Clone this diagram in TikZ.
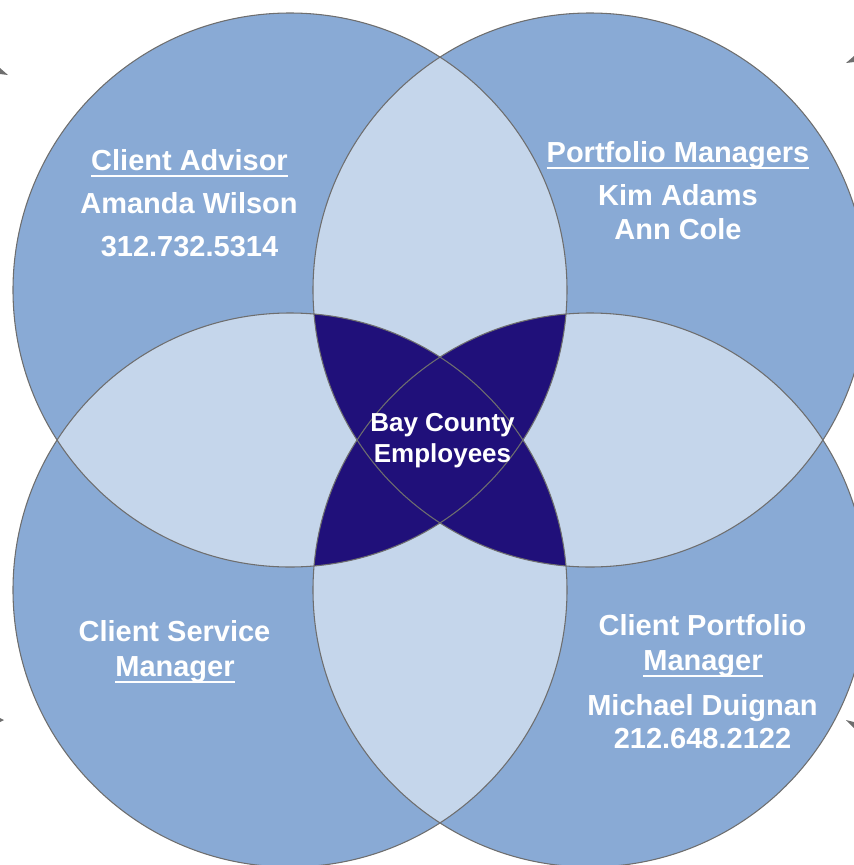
\documentclass[tikz,border=0pt]{standalone}
\usepackage{fontspec}
\setmainfont{Liberation Sans}
\definecolor{midblue}{RGB}{137,170,213}
\definecolor{lightblue}{RGB}{197,214,235}
\definecolor{navy}{RGB}{32,16,122}
\definecolor{edgegray}{RGB}{110,110,110}
% underline with a fixed drop below the baseline
\newcommand\ulbar[1]{\setbox0\hbox{#1}\rlap{\rule[-0.25em]{\wd0}{0.07em}}\box0}
\tikzset{
  label/.style={text=white, font=\bfseries\fontsize{21.75pt}{26pt}\selectfont, anchor=base, inner sep=0pt},
  centerlabel/.style={text=white, font=\bfseries\fontsize{19.5pt}{23pt}\selectfont, anchor=base, inner sep=0pt},
  ring/.style={draw=edgegray, line width=0.8pt},
  tick/.style={fill=edgegray}
}
\begin{document}
\begin{tikzpicture}[x=0.75pt,y=-0.75pt]
\useasboundingbox (0,0) rectangle (854,865);
\clip (0,0) rectangle (854,865);
\def\R{207.75pt}
\coordinate (tl) at (290,290);
\coordinate (tr) at (590,290);
\coordinate (bl) at (290,590);
\coordinate (br) at (590,590);

% small arrow tips at the edges
\fill[tick] (0,68) -- (8,75) -- (0,74) -- cycle;
\fill[tick] (854,56) -- (846,63) -- (854,62) -- cycle;
\fill[tick] (0,718) -- (4,720) -- (0,722) -- cycle;
\fill[tick] (846,720) -- (854,722) -- (854,728) -- cycle;

% single circles
\foreach \c in {tl,tr,bl,br} \fill[midblue] (\c) circle (\R);

% overlaps of neighbouring circles
\foreach \a/\b in {tl/tr, tl/bl, tr/br, bl/br}{
  \begin{scope}
    \clip (\a) circle (\R);
    \fill[lightblue] (\b) circle (\R);
  \end{scope}
}

% overlaps of opposite circles
\foreach \a/\b in {tl/br, tr/bl}{
  \begin{scope}
    \clip (\a) circle (\R);
    \fill[navy] (\b) circle (\R);
  \end{scope}
}

% outlines
\foreach \c in {tl,tr,bl,br} \draw[ring] (\c) circle (\R);

% labels
\node[label] (adv1) at (189.5,170) {\ulbar{Client Advisor}};
\node[label] (adv2) at (189,213) {Amanda Wilson};
\node[label] (adv3) at (189.5,256) {312.732.5314};

\node[label] (pm1) at (678,162) {\ulbar{Portfolio Managers}};
\node[label] (pm2) at (678,205) {Kim Adams};
\node[label] (pm3) at (678,239) {Ann Cole};

\node[label] (csm1) at (174.5,641) {Client Service};
\node[label] (csm2) at (175,676) {\ulbar{Manager}};

\node[label] (cpm1) at (702.5,635) {Client Portfolio};
\node[label] (cpm2) at (703,670) {\ulbar{Manager}};
\node[label] (cpm3) at (702.5,715) {Michael Duignan};
\node[label] (cpm4) at (702.5,748) {212.648.2122};

\node[centerlabel] (ctr1) at (442.5,431) {Bay County};
\node[centerlabel] (ctr2) at (442.5,462) {Employees};
\end{tikzpicture}
\end{document}
